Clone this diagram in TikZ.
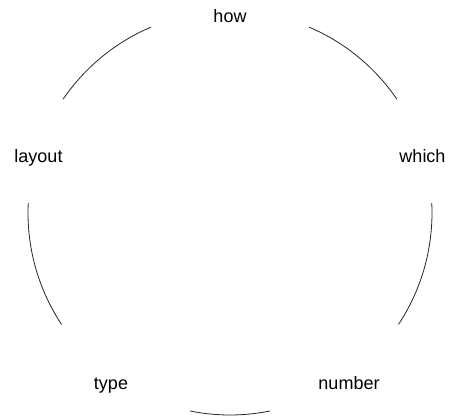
\documentclass[tikz,border=0pt]{standalone}
\usepackage{fontspec}
\setmainfont{Liberation Sans}
\begin{document}
\begin{tikzpicture}[x=1pt,y=1pt,
  lbl/.style={anchor=base,inner sep=0pt,font=\fontsize{18}{20}\selectfont},
  link/.style={line width=0.8pt,draw=black!85}]
\useasboundingbox (0,0) rectangle (452,415);
\coordinate (c) at (230,202);
\node[lbl] (how) at (230,392.3) {how};
\node[lbl] (which) at (422.5,252) {which};
\node[lbl] (number) at (349,26) {number};
\node[lbl] (type) at (111,26) {type};
\node[lbl] (layout) at (38.5,252) {layout};
\draw[link] ([shift={(113:202)}]c) arc[start angle=113,end angle=145.7,radius=202];
\draw[link] ([shift={(67:202)}]c) arc[start angle=67,end angle=34.3,radius=202];
\draw[link] ([shift={(177.2:202)}]c) arc[start angle=177.2,end angle=213.5,radius=202];
\draw[link] ([shift={(2.8:202)}]c) arc[start angle=2.8,end angle=-33.5,radius=202];
\draw[link] ([shift={(258.6:202)}]c) arc[start angle=258.6,end angle=281.4,radius=202];
\end{tikzpicture}
\end{document}
